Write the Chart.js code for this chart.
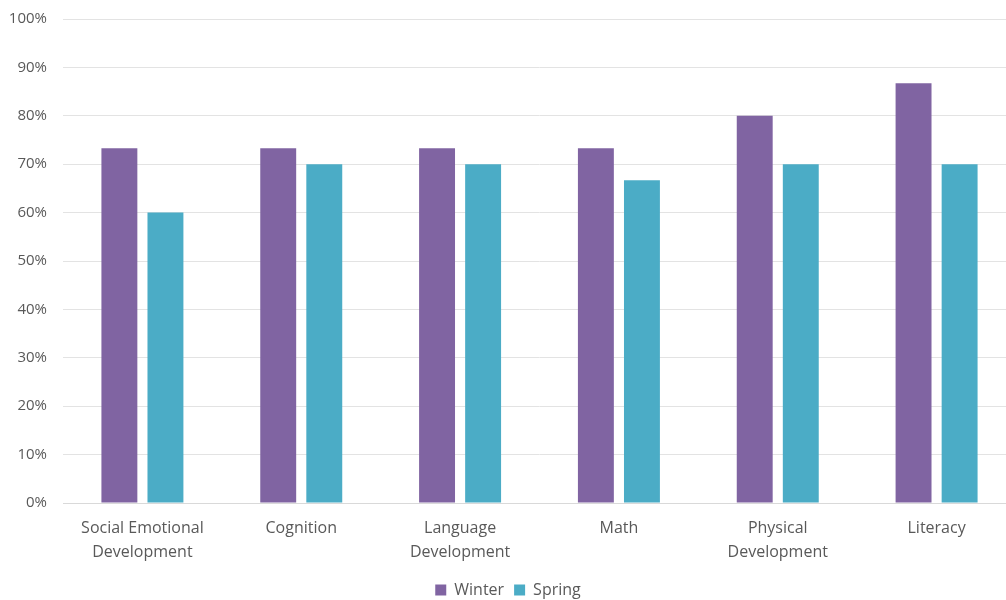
<!DOCTYPE html>
<html>
<head>
<meta charset="utf-8">
<script src="https://cdn.jsdelivr.net/npm/chart.js"></script>
<style>
  body { margin: 0; background: #fff; }
  #wrap { width: 1006px; height: 600px; overflow: hidden; }
  #myChart { display: block; margin-top: -6px; }
</style>
</head>
<body>
<div id="wrap"><canvas id="myChart" width="1016" height="614"></canvas></div>
<script>
// categories and series
var categories = [["Social Emotional", "Development"], "Cognition", ["Language", "Development"], "Math", ["Physical", "Development"], "Literacy"];
var winter = [73.3, 73.3, 73.3, 73.3, 80, 86.7];
var spring = [60, 70, 70, 66.7, 70, 70];

Chart.defaults.font.family = "'Open Sans', Lato, sans-serif";
Chart.defaults.font.size = 16;
Chart.defaults.color = "#595959";

function skillsChart() {
  var ctx = document.getElementById('myChart').getContext('2d');
  var myChart = new Chart(ctx, {
    type: 'bar',
    data: {
      labels: categories,
      datasets: [{
        label: 'Winter',
        data: winter,
        backgroundColor: "#8064A2",
        categoryPercentage: 0.58,
        barPercentage: 0.78
      }, {
        label: 'Spring',
        data: spring,
        backgroundColor: "#4BACC6",
        categoryPercentage: 0.58,
        barPercentage: 0.78
      }]
    },
    options: {
      responsive: false,
      animation: false,
      layout: { padding: { top: 5, right: 0, bottom: 0, left: 0 } },
      plugins: {
        tooltip: { enabled: false },
        legend: {
          position: 'bottom',
          labels: { boxWidth: 11, boxHeight: 11, padding: 10, font: { size: 16 } }
        }
      },
      scales: {
        x: {
          afterFit: function (scale) { scale.height = 69; },
          grid: { display: false, drawTicks: false },
          border: { color: "#d9d9d9", width: 1 },
          ticks: { padding: 13, maxRotation: 0, font: { size: 16, lineHeight: 1.5 } }
        },
        y: {
          min: 0,
          max: 100,
          afterFit: function (scale) { scale.width = 63; },
          grid: { color: "#e3e3e3", drawTicks: false },
          border: { display: false },
          ticks: {
            stepSize: 10,
            padding: 16,
            font: { size: 15 },
            callback: function (v) { return v + '%'; }
          }
        }
      }
    }
  });
}
skillsChart();
</script>
</body>
</html>
